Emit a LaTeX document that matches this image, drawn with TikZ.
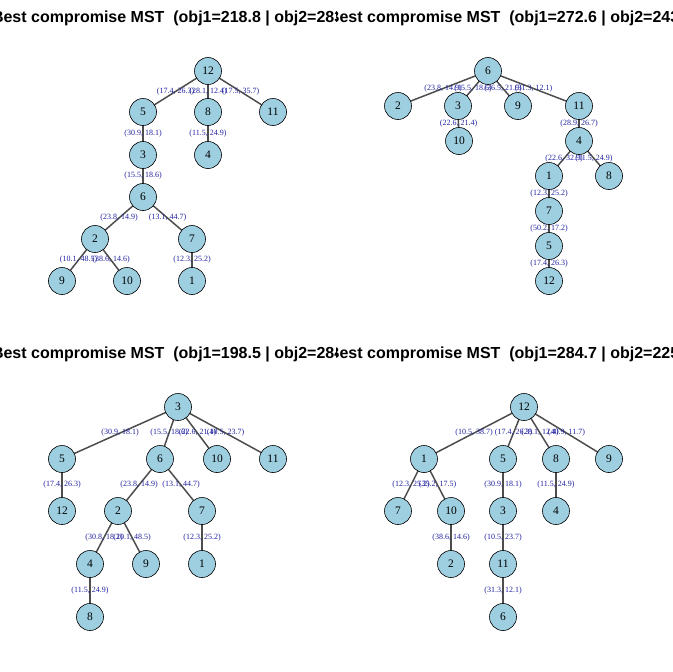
\documentclass[tikz,border=0pt]{standalone}
\usepackage{fontspec}
\setmainfont{Liberation Serif}
\setsansfont{Liberation Sans}
\begin{document}
\begin{tikzpicture}[x=1pt,y=-1pt,
  v/.style={circle,draw=black,fill=lbl,line width=0.6pt,minimum size=27pt,inner sep=0pt,font=\fontsize{11.5}{11.5}\selectfont},
  e/.style={draw=egray,line width=1.5pt},
  el/.style={text=navy,font=\fontsize{8}{8}\selectfont,inner sep=0pt},
  ttl/.style={font=\sffamily\bfseries\fontsize{16}{16}\selectfont}]
\definecolor{lbl}{HTML}{9ECFE0}
\definecolor{egray}{HTML}{4D4D4D}
\definecolor{navy}{HTML}{2020A0}
\useasboundingbox (0,0) rectangle (672,672);
\newcommand{\ed}[3]{\path[e] (#1) -- (#2) node[el,midway,pos=0.5]{#3};}
% Panel 1
\begin{scope}
\clip (0,0) rectangle (336,336);
\node[ttl] (t1) at (177,18) {Best compromise MST\ \ (obj1=218.8 | obj2=283.0)};
\coordinate (a12) at (208,71); \coordinate (a5) at (143,112); \coordinate (a8) at (208,112);
\coordinate (a11) at (273,112); \coordinate (a3) at (143,155); \coordinate (a4) at (208,155);
\coordinate (a6) at (143,197); \coordinate (a2) at (95,239); \coordinate (a7) at (192,239);
\coordinate (a9) at (62,281); \coordinate (a10) at (127,281); \coordinate (a1) at (192,281);
\ed{a12}{a5}{(17.4, 26.3)} \ed{a12}{a8}{(28.1, 12.4)} \ed{a12}{a11}{(17.5, 35.7)}
\ed{a5}{a3}{(30.9, 18.1)} \ed{a8}{a4}{(11.5, 24.9)} \ed{a3}{a6}{(15.5, 18.6)}
\ed{a6}{a2}{(23.8, 14.9)} \ed{a6}{a7}{(13.1, 44.7)} \ed{a2}{a9}{(10.1, 48.5)}
\ed{a2}{a10}{(38.6, 14.6)} \ed{a7}{a1}{(12.3, 25.2)}
\foreach \n in {1,...,12} \node[v] (n1\n) at (a\n) {\n};
\end{scope}
% Panel 2
\begin{scope}
\clip (336,0) rectangle (672,336);
\node[ttl] (t2) at (513,18) {Best compromise MST\ \ (obj1=272.6 | obj2=243.0)};
\coordinate (b6) at (488,71); \coordinate (b2) at (398,106); \coordinate (b3) at (458,106);
\coordinate (b9) at (518,106); \coordinate (b11) at (579,106); \coordinate (b10) at (459,141);
\coordinate (b4) at (579,141); \coordinate (b1) at (549,176); \coordinate (b8) at (609,176);
\coordinate (b7) at (549,211); \coordinate (b5) at (549,246); \coordinate (b12) at (549,281);
\ed{b6}{b2}{(23.8, 14.9)} \ed{b6}{b3}{(15.5, 18.6)} \ed{b6}{b9}{(36.5, 21.9)}
\ed{b6}{b11}{(31.3, 12.1)} \ed{b3}{b10}{(22.6, 21.4)} \ed{b11}{b4}{(28.9, 26.7)}
\ed{b4}{b1}{(22.6, 32.9)} \ed{b4}{b8}{(11.5, 24.9)} \ed{b1}{b7}{(12.3, 25.2)}
\ed{b7}{b5}{(50.2, 17.2)} \ed{b5}{b12}{(17.4, 26.3)}
\foreach \n in {1,...,12} \node[v] (n2\n) at (b\n) {\n};
\end{scope}
% Panel 3
\begin{scope}
\clip (0,336) rectangle (336,672);
\node[ttl] (t3) at (177,354) {Best compromise MST\ \ (obj1=198.5 | obj2=284.0)};
\coordinate (c3) at (178,407); \coordinate (c5) at (62,459); \coordinate (c6) at (160,459);
\coordinate (c10) at (217,459); \coordinate (c11) at (273,459); \coordinate (c12) at (62,511);
\coordinate (c2) at (118,511); \coordinate (c7) at (202,511); \coordinate (c4) at (90,564);
\coordinate (c9) at (146,564); \coordinate (c1) at (202,564); \coordinate (c8) at (90,617);
\ed{c3}{c5}{(30.9, 18.1)} \ed{c3}{c6}{(15.5, 18.6)} \ed{c3}{c10}{(22.6, 21.4)}
\ed{c3}{c11}{(10.5, 23.7)} \ed{c5}{c12}{(17.4, 26.3)} \ed{c6}{c2}{(23.8, 14.9)}
\ed{c6}{c7}{(13.1, 44.7)} \ed{c2}{c4}{(30.8, 18.2)} \ed{c2}{c9}{(10.1, 48.5)}
\ed{c7}{c1}{(12.3, 25.2)} \ed{c4}{c8}{(11.5, 24.9)}
\foreach \n in {1,...,12} \node[v] (n3\n) at (c\n) {\n};
\end{scope}
% Panel 4
\begin{scope}
\clip (336,336) rectangle (672,672);
\node[ttl] (t4) at (513,354) {Best compromise MST\ \ (obj1=284.7 | obj2=225.0)};
\coordinate (d12) at (524,407); \coordinate (d1) at (424,459); \coordinate (d5) at (503,459);
\coordinate (d8) at (556,459); \coordinate (d9) at (609,459); \coordinate (d7) at (398,511);
\coordinate (d10) at (451,511); \coordinate (d3) at (503,511); \coordinate (d4) at (556,511);
\coordinate (d2) at (451,564); \coordinate (d11) at (503,564); \coordinate (d6) at (503,617);
\ed{d12}{d1}{(10.5, 38.7)} \ed{d12}{d5}{(17.4, 26.3)} \ed{d12}{d8}{(28.1, 12.4)}
\ed{d12}{d9}{(40.9, 11.7)} \ed{d1}{d7}{(12.3, 25.2)} \ed{d1}{d10}{(35.2, 17.5)}
\ed{d5}{d3}{(30.9, 18.1)} \ed{d8}{d4}{(11.5, 24.9)} \ed{d10}{d2}{(38.6, 14.6)}
\ed{d3}{d11}{(10.5, 23.7)} \ed{d11}{d6}{(31.3, 12.1)}
\foreach \n in {1,...,12} \node[v] (n4\n) at (d\n) {\n};
\end{scope}
\end{tikzpicture}
\end{document}
